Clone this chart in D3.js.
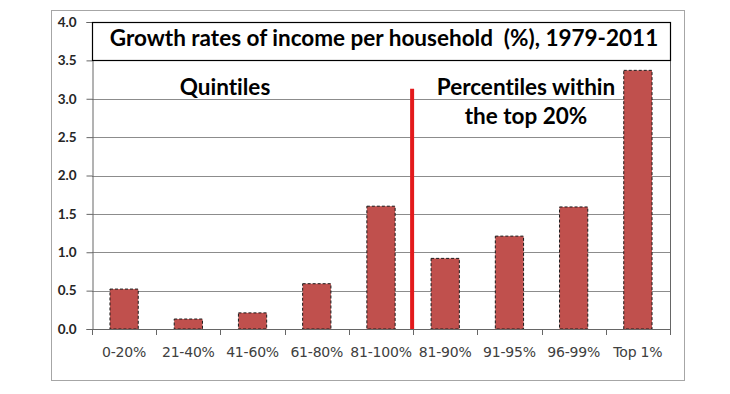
<!DOCTYPE html>
<html lang="en">
<head>
	<meta charset="utf-8" />
	<title>Growth rates of income per household</title>
	<style>
		body { margin: 0; padding: 0; background: #fff; }
		svg text { fill: #000; font-variant-ligatures: none; }
	</style>
	<script src="https://d3js.org/d3.v7.min.js"></script>
</head>
<body>
	<div id="chart"></div>
	<script>
	// data
	const categories = ["0-20%", "21-40%", "41-60%", "61-80%", "81-100%", "81-90%", "91-95%", "96-99%", "Top 1%"];
	const growth = [0.52, 0.13, 0.21, 0.59, 1.60, 0.92, 1.21, 1.59, 3.37];
	const yTicks = [0, 0.5, 1, 1.5, 2, 2.5, 3, 3.5, 4];
	const dividerTop = 3.13;

	const W = 730, H = 394;
	const plotL = 92, plotR = 670, plotT = 22, plotB = 329;

	const svg = d3.select("#chart").append("svg")
		.attr("width", W).attr("height", H);

	// outer chart frame
	svg.append("rect")
		.attr("x", 51.5).attr("y", 10.5).attr("width", 633).attr("height", 370)
		.attr("fill", "none").attr("stroke", "#a6a6a6");

	const x = d3.scaleBand().domain(categories).range([plotL, plotR]).paddingInner(0.56).paddingOuter(0.28);
	const y = d3.scaleLinear().domain([0, 4]).range([plotB, plotT]);

	// gridlines
	svg.append("g").selectAll("line").data(yTicks.slice(1)).enter().append("line")
		.attr("x1", plotL).attr("x2", plotR)
		.attr("y1", d => Math.round(y(d)) + 0.5).attr("y2", d => Math.round(y(d)) + 0.5)
		.attr("stroke", "#8c8c8c");

	// right border of plot area
	svg.append("line")
		.attr("x1", plotR + 0.5).attr("x2", plotR + 0.5).attr("y1", plotT).attr("y2", plotB)
		.attr("stroke", "#666");

	// bars
	svg.append("g").selectAll("rect").data(growth).enter().append("rect")
		.attr("x", (d, i) => x(categories[i]))
		.attr("width", x.bandwidth())
		.attr("y", d => y(d))
		.attr("height", d => plotB - y(d))
		.attr("fill", "#c0504d")
		.attr("stroke", "#1a1a1a")
		.attr("stroke-width", 1)
		.attr("stroke-dasharray", "3,2");

	// y axis
	const yAxis = svg.append("g")
		.attr("transform", `translate(${plotL + 0.5},0)`)
		.call(d3.axisLeft(y).tickValues(yTicks).tickFormat(d3.format(".1f")).tickSize(6).tickPadding(10));
	yAxis.select(".domain").attr("stroke", "#666");
	yAxis.selectAll(".tick line").attr("stroke", "#666");
	yAxis.selectAll("text")
		.attr("font-family", "Lato, 'Open Sans', sans-serif")
		.attr("font-weight", "bold").attr("font-size", 13.5).style("fill", "#262626")
		.attr("x", -16);

	// x axis
	const bounds = d3.range(categories.length + 1).map(i => plotL + i * (plotR - plotL) / categories.length);
	svg.append("line")
		.attr("x1", plotL).attr("x2", plotR + 1).attr("y1", plotB + 0.5).attr("y2", plotB + 0.5)
		.attr("stroke", "#666");
	svg.append("g").selectAll("line").data(bounds).enter().append("line")
		.attr("x1", d => Math.round(d) + 0.5).attr("x2", d => Math.round(d) + 0.5)
		.attr("y1", plotB).attr("y2", plotB + 6)
		.attr("stroke", "#666");
	svg.append("g").selectAll("text").data(categories).enter().append("text")
		.attr("x", d => x(d) + x.bandwidth() / 2)
		.attr("y", 357)
		.attr("text-anchor", "middle")
		.attr("font-family", "'DejaVu Sans', Verdana, sans-serif")
		.attr("font-size", 14)
		.attr("letter-spacing", -0.2)
		.style("fill", "#404040")
		.text(d => d);

	// title box
	svg.append("rect")
		.attr("x", plotL + 0.5).attr("y", plotT + 0.5)
		.attr("width", plotR - plotL).attr("height", Math.round(y(3.5)) - plotT)
		.attr("fill", "#fff").attr("stroke", "#000").attr("stroke-width", 1.2);
	svg.append("text")
		.attr("x", (plotL + plotR) / 2 + 3).attr("y", 46)
		.attr("text-anchor", "middle")
		.attr("font-family", "Lato, 'Open Sans', sans-serif")
		.attr("font-weight", "bold").attr("font-size", 22.5)
		.attr("xml:space", "preserve")
		.text("Growth rates of income per household  (%), 1979-2011");

	// divider between quintiles and top percentiles
	const divX = bounds[5];
	svg.append("line")
		.attr("x1", divX - 1).attr("x2", divX - 1)
		.attr("y1", y(dividerTop)).attr("y2", plotB)
		.attr("stroke", "#e31a1c").attr("stroke-width", 4);

	// annotations
	const note = (t, cx, cy) => svg.append("text")
		.attr("x", cx).attr("y", cy).attr("text-anchor", "middle")
		.attr("font-family", "Lato, 'Open Sans', sans-serif")
		.attr("font-weight", "bold").attr("font-size", 22.5)
		.text(t);
	note("Quintiles", 225, 95);
	note("Percentiles within", 526, 95);
	note("the top 20%", 526, 124);
	</script>
</body>
</html>
